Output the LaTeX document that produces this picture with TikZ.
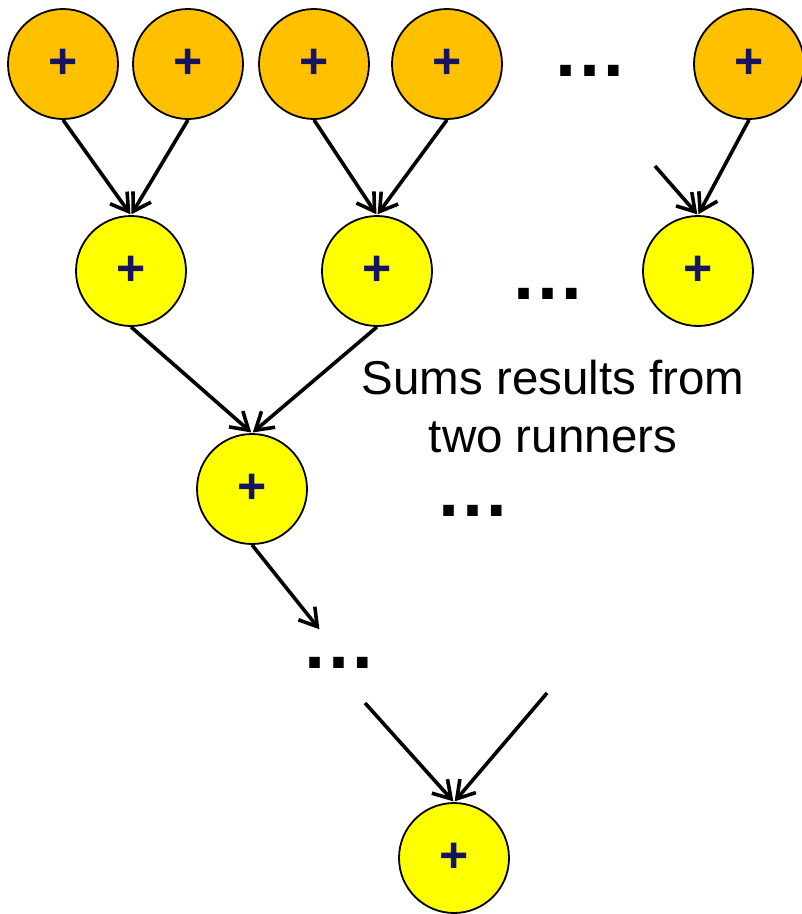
\documentclass[tikz,border=0pt]{standalone}
\usepackage{fontspec}
\setmainfont{Liberation Sans}
\usetikzlibrary{arrows.meta}
\definecolor{orangefill}{RGB}{255,192,0}
\definecolor{yellowfill}{RGB}{255,255,0}
\definecolor{plusnavy}{RGB}{20,20,96}
\begin{document}
\begin{tikzpicture}[x=1pt,y=-1pt,
  opnode/.style={circle,draw=black,line width=1.8pt,minimum size=110pt,inner sep=0pt,
    text=plusnavy,font=\fontsize{50}{50}\selectfont\bfseries},
  orangeop/.style={opnode,fill=orangefill},
  yellowop/.style={opnode,fill=yellowfill},
  conn/.style={draw=black,line width=3.6pt,-{Straight Barb[length=17pt,width=21pt,line width=3.6pt]},shorten >=1pt},
  dotsnode/.style={anchor=base,inner sep=0pt,font=\fontsize{75}{75}\selectfont\bfseries},
  caption/.style={align=center,font=\fontsize{47.5}{58}\selectfont}]
\useasboundingbox (0,0) rectangle (802,914);
% top row
\node[orangeop] (o1) at (63,64) {+};
\node[orangeop] (o2) at (188,64) {+};
\node[orangeop] (o3) at (314,64) {+};
\node[orangeop] (o4) at (447,64) {+};
\node[orangeop] (o5) at (749,64) {+};
% second row
\node[yellowop] (y1) at (131,271) {+};
\node[yellowop] (y2) at (377,271) {+};
\node[yellowop] (y3) at (698,271) {+};
% third
\node[yellowop] (y4) at (252,489) {+};
% bottom
\node[yellowop] (y5) at (454,858) {+};
% dots
\node[dotsnode] (d1) at (590,76) {…};
\node[dotsnode] (d2) at (548,299) {…};
\node[dotsnode] (d3) at (473,516) {…};
\node[dotsnode] (d4) at (339,668) {…};
% caption
\node[caption] (cap) at (553,407) {Sums results from\\two runners};
% free ends
\coordinate (f1) at (655,166);
\coordinate (f2) at (320,630);
\coordinate (f3) at (365,703);
\coordinate (f4) at (547,693);
% connectors
\draw[conn] (o1.south) -- (y1.north);
\draw[conn] (o2.south) -- (y1.north);
\draw[conn] (o3.south) -- (y2.north);
\draw[conn] (o4.south) -- (y2.north);
\draw[conn] (f1) -- (y3.north);
\draw[conn] (o5.south) -- (y3.north);
\draw[conn] (y1.south) -- (y4.north);
\draw[conn] (y2.south) -- (y4.north);
\draw[conn] (y4.south) -- (f2);
\draw[conn] (f3) -- (y5.north);
\draw[conn] (f4) -- (y5.north);
\end{tikzpicture}
\end{document}
